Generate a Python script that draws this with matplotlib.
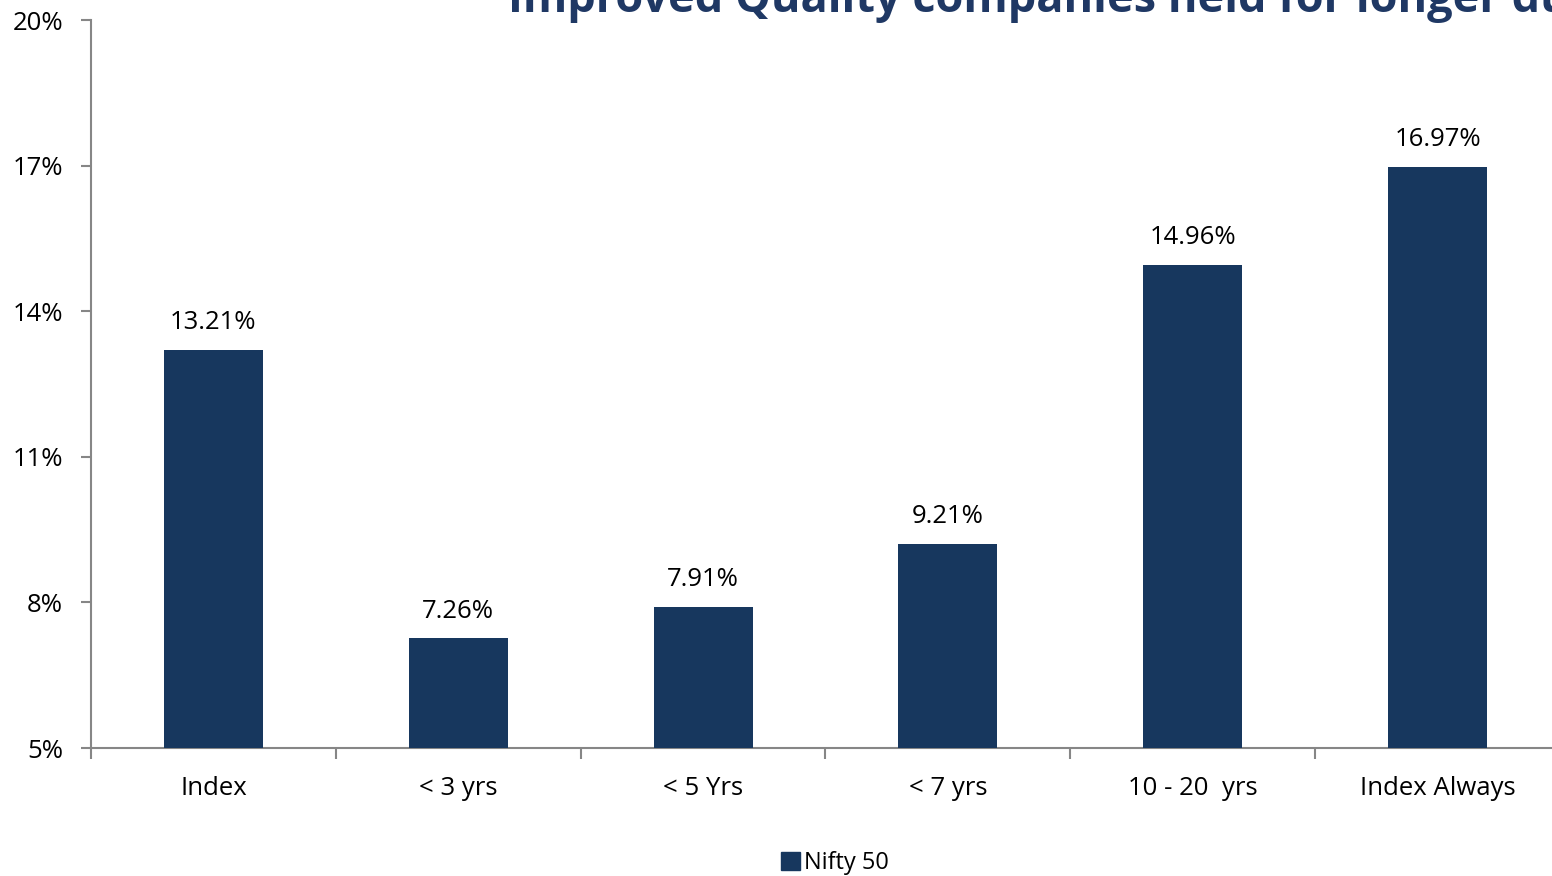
"""
Bar chart: returns of Nifty 50 companies by holding duration.
"""

import matplotlib.pyplot as plt
from matplotlib.patches import Patch

# Chart data.
categories = ['Index', '< 3 yrs', '< 5 Yrs', '< 7 yrs', '10 - 20  yrs', 'Index Always']
returns = [13.21, 7.26, 7.91, 9.21, 14.96, 16.97]
y_ticks = [5, 8, 11, 14, 17, 20]
series_name = 'Nifty 50'
title = 'Improved Quality companies held for longer duration'

bar_color = '#17375E'
title_color = '#1F3864'
axis_color = '#868686'

plt.rcParams['font.family'] = ['Open Sans', 'DejaVu Sans']

fig = plt.figure(figsize=(15.52, 8.76), dpi=100)
W, H = 1552, 876
# Axes spans pixel x 91..1560 and y 20..748 (extends past the right edge).
ax = fig.add_axes([91 / W, 1 - 748 / H, (1560 - 91) / W, (748 - 20) / H])

x = range(len(categories))
ax.bar(x, [v - y_ticks[0] for v in returns], bottom=y_ticks[0],
       width=0.405, color=bar_color, zorder=3)
for xi, v in zip(x, returns):
    ax.text(xi, v + 0.3, f'{v:.2f}%', ha='center', va='bottom', fontsize=18.5, color='black')

ax.set_xlim(-0.5, len(categories) - 0.5)
ax.set_ylim(y_ticks[0], y_ticks[-1])
ax.set_yticks(y_ticks)
ax.set_yticklabels([f'{t}%' for t in y_ticks], fontsize=18.5)

# Category labels between boundary ticks.
ax.set_xticks([i - 0.5 for i in range(len(categories) + 1)])
ax.set_xticklabels([])
ax.set_xticks(list(x), minor=True)
ax.set_xticklabels(categories, minor=True, fontsize=18.5)
ax.tick_params(axis='x', which='minor', length=0, pad=20)
ax.tick_params(axis='x', which='major', length=8, width=1.5, color=axis_color, direction='out')
ax.tick_params(axis='y', length=7, width=1.5, color=axis_color, direction='out', pad=13)

for side in ('top', 'right'):
    ax.spines[side].set_visible(False)
for side in ('left', 'bottom'):
    ax.spines[side].set_color(axis_color)
    ax.spines[side].set_linewidth(1.5)

fig.text(508 / W, 1 - 12 / H, title, ha='left', va='baseline', fontsize=32.5,
         fontweight='bold', color=title_color)

fig.legend(handles=[Patch(color=bar_color, label=series_name)], loc='center',
           bbox_to_anchor=(835 / W, 1 - 863 / H), frameon=False, fontsize=17,
           handlelength=0.8, handleheight=0.8, handletextpad=0.2)

fig.savefig('out.png', dpi=100)
